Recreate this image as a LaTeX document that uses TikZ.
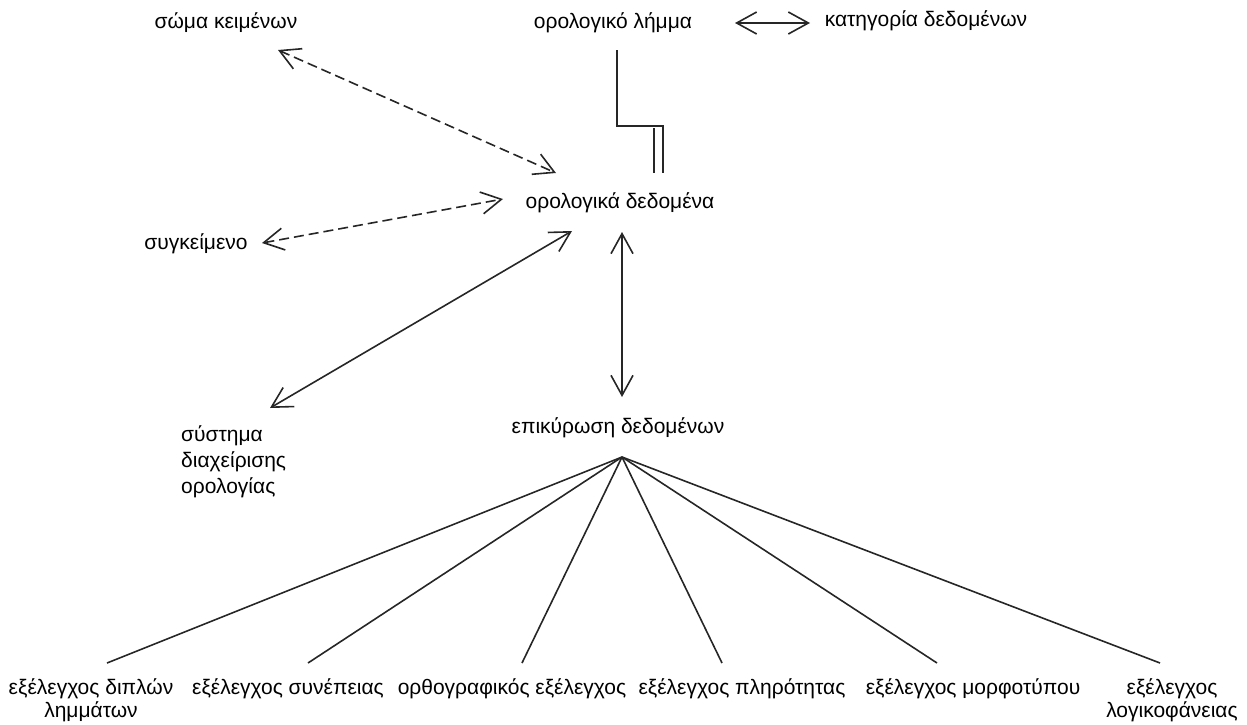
\documentclass[tikz,border=0pt]{standalone}
\usepackage{fontspec}
\setmainfont{Liberation Sans}
\usetikzlibrary{arrows.meta,calc}
\tikzset{
  lbl/.style={font=\fontsize{21}{26}\selectfont, inner sep=0pt, anchor=base, text=black},
  ln/.style={line width=1.6pt, draw=black!85},
  biarrow/.style={ln, {Straight Barb[length=20pt,width=22pt]}-{Straight Barb[length=20pt,width=22pt]}},
  dasharrow/.style={biarrow, dash pattern=on 10pt off 5pt},
  fanline/.style={ln}
}
\begin{document}
\begin{tikzpicture}[x=1pt,y=-1pt]
\useasboundingbox (0,0) rectangle (1247,724);
% nodes
\node[lbl] (skm) at (226,28) {σώμα κειμένων};
\node[lbl] (lhm) at (613,28) {ορολογικό λήμμα};
\node[lbl] (kat) at (926,26) {κατηγορία δεδομένων};
\node[lbl] (ded) at (620,208) {ορολογικά δεδομένα};
\node[lbl] (syg) at (196,249) {συγκείμενο};
\node[lbl] (epi) at (618,433) {επικύρωση δεδομένων};
\node[lbl, anchor=base west, align=left] (sys) at (181,493) {σύστημα\\διαχείρισης\\ορολογίας};
\node[lbl, align=center, font=\fontsize{21}{23}\selectfont] (b1) at (91,717) {εξέλεγχος διπλών\\λημμάτων};
\node[lbl] (b2) at (288,694) {εξέλεγχος συνέπειας};
\node[lbl] (b3) at (512,694) {ορθογραφικός εξέλεγχος};
\node[lbl] (b4) at (742,694) {εξέλεγχος πληρότητας};
\node[lbl] (b5) at (973,694) {εξέλεγχος μορφοτύπου};
\node[lbl, align=center, font=\fontsize{21}{23}\selectfont] (b6) at (1172,717) {εξέλεγχος\\λογικοφάνειας};
% connectors
\draw[dasharrow] ($(skm.base)+(52,22)$) -- ($(ded.base)+(-64,-35)$);
\draw[dasharrow] ($(syg.base)+(66,-6)$) -- ($(ded.base)+(-117,-9)$);
\draw[biarrow] ($(sys.base west)+(89,-85)$) -- ($(ded.base)+(-48,23)$);
\draw[biarrow] ($(ded.base)+(2,24)$) -- ($(epi.base)+(4,-36)$);
\draw[biarrow] ($(lhm.base)+(122,-5)$) -- ($(kat.base)+(-116,-3)$);
% composition link
\draw[ln] ($(lhm.base)+(4,22)$) |- ($(ded.base)+(43,-82)$) -- ($(ded.base)+(43,-35)$);
\draw[ln] ($(ded.base)+(34,-80)$) -- ($(ded.base)+(34,-35)$);
% fan
\coordinate (fan) at ($(epi.base)+(4,24)$);
\draw[fanline] (fan) -- ($(b1.base)+(16,-54)$);
\draw[fanline] (fan) -- ($(b2.base)+(20,-31)$);
\draw[fanline] (fan) -- ($(b3.base)+(10,-31)$);
\draw[fanline] (fan) -- ($(b4.base)+(-20,-31)$);
\draw[fanline] (fan) -- ($(b5.base)+(-36,-31)$);
\draw[fanline] (fan) -- ($(b6.base)+(-12,-54)$);
\end{tikzpicture}
\end{document}
